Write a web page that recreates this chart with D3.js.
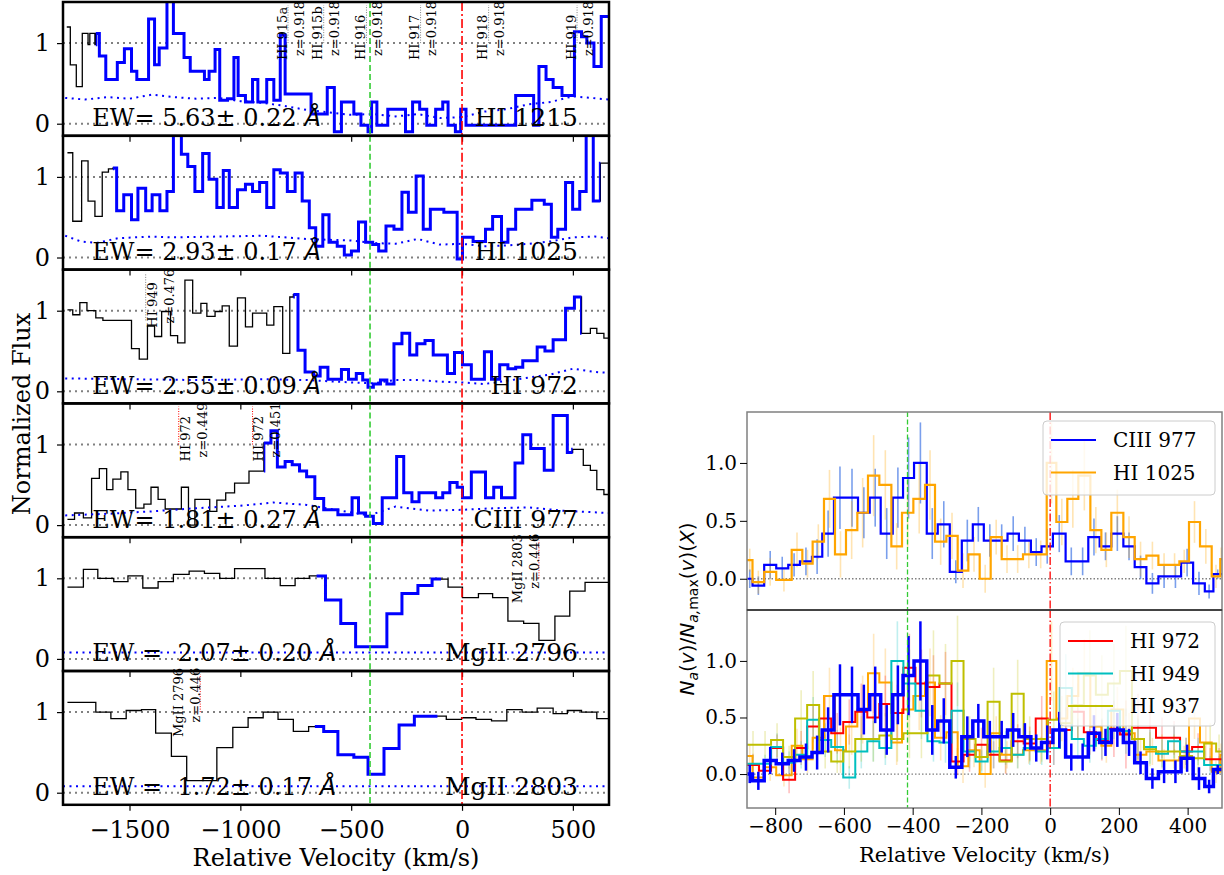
<!DOCTYPE html>
<html>
<head>
<meta charset="utf-8">
<script src="https://cdn.jsdelivr.net/npm/d3@7"></script>
<style>
  body { margin: 0; background: #fff; }
  svg text { font-family: "DejaVu Serif", serif; }
</style>
</head>
<body>
<div id="chart"></div>
<script>
// ---------- left column: normalized flux per transition ----------
const lineNames = ["HI 1215", "HI 1025", "HI 972", "CIII 977", "MgII 2796", "MgII 2803"];
const ewPrefix = ["EW= ", "EW= ", "EW= ", "EW= ", "EW =  ", "EW =  "];
const ewValues = ["5.63\u00b1 0.22", "2.93\u00b1 0.17", "2.55\u00b1 0.09", "1.81\u00b1 0.27", "2.07\u00b1 0.20", "1.72\u00b1 0.17"];

// flux step spectra (velocity of bin start, flux)
const p1Vel = [-1783,-1767,-1740,-1713,-1687,-1679,-1656,-1652,-1636,-1607,-1555,-1523,-1491,-1467,-1414,-1387,-1366,-1331,-1302,-1254,-1226,-1162,-1141,-1114,-1093,-1058,-1029,-1010,-977,-945,-921,-881,-849,-820,-798,-681,-608,-576,-544,-488,-456,-424,-408,-384,-335,-255,-223,-191,-159,-119,-87,-63,-30,-6,18,242,323,347,379,411,451,507,539,563,595,628];
const p1Flux = [1.20,0.73,0.46,1.12,0.98,1.12,0.98,1.12,0.84,0.55,0.76,0.93,0.65,0.55,1.30,0.73,0.94,1.55,1.12,0.82,0.65,0.55,0.65,0.92,0.29,0.31,0.82,0.35,0.27,0.55,0.27,0.55,0.29,1.10,0.37,0.12,0.45,-0.10,0.27,0.12,-0.02,-0.10,0.27,-0.02,0.18,-0.10,0.27,0.18,-0.02,0.18,0.27,-0.02,-0.10,0.18,-0.02,0.35,-0.02,0.71,0.55,0.45,0.35,1.14,1.08,1.0,0.71,1.33];

const p2Vel = [-1780,-1756,-1716,-1687,-1656,-1623,-1595,-1575,-1558,-1526,-1491,-1462,-1427,-1398,-1363,-1331,-1302,-1266,-1237,-1205,-1170,-1141,-1106,-1077,-1050,-1013,-977,-945,-913,-881,-849,-820,-788,-753,-721,-689,-660,-628,-600,-563,-531,-499,-467,-435,-403,-376,-343,-307,-271,-242,-207,-175,-143,-82,-22,2,50,106,138,178,207,242,315,371,403,432,467,499,531,560,592,624];
const p2Flux = [1.30,0.45,1.20,0.70,0.51,1.06,1.10,1.11,0.58,0.78,0.47,0.86,0.58,0.78,0.58,0.82,1.55,1.28,1.13,0.82,1.29,0.97,0.62,1.08,0.62,0.84,0.91,0.82,0.93,0.62,1.09,1.05,0.82,1.05,0.70,0.37,0.14,0.53,0.19,0.14,0.03,0.08,0.44,0.19,0.16,0.08,0.39,0.35,0.81,0.56,1.01,0.35,0.60,0.56,-0.02,0.25,0.20,0.35,0.51,0.19,0.35,0.60,0.71,0.66,0.25,0.35,0.93,0.60,0.82,1.55,0.70,1.17];

const p3Vel = [-1780,-1756,-1724,-1692,-1652,-1620,-1491,-1456,-1419,-1387,-1355,-1315,-1283,-1250,-1215,-1178,-1151,-1114,-1082,-1050,-1013,-977,-945,-881,-849,-809,-777,-761,-740,-708,-669,-640,-605,-544,-512,-477,-448,-424,-400,-368,-339,-307,-271,-236,-204,-167,-130,-66,-34,2,42,101,133,170,207,242,274,339,374,411,467,507,539,579,608,640];
const p3Flux = [1.01,0.95,1.10,1.0,0.91,0.88,0.53,0.40,0.81,0.68,0.99,0.69,0.60,1.38,0.97,1.09,0.93,0.99,1.06,0.56,1.16,0.80,0.97,0.82,1.05,0.47,1.17,1.20,0.51,0.24,0.19,0.30,0.15,0.27,0.15,0.22,0.14,0.05,0.09,0.14,0.09,0.59,0.72,0.45,0.59,0.63,0.45,0.22,0.48,0.33,0.15,0.49,0.15,0.33,0.28,0.30,0.38,0.55,0.50,0.64,1.03,1.17,0.72,0.78,0.72,0.66];

const p4Vel = [-1780,-1748,-1708,-1671,-1636,-1603,-1575,-1539,-1507,-1472,-1435,-1403,-1371,-1339,-1266,-1234,-1205,-1138,-1106,-1066,-1026,-961,-894,-862,-833,-798,-766,-733,-701,-664,-624,-560,-496,-467,-435,-400,-360,-295,-263,-226,-194,-119,-87,-55,-22,2,42,106,143,178,239,274,310,371,411,475,499,547,579,608,640];
const p4Flux = [0.07,0.15,0.09,0.58,0.70,0.44,0.57,0.66,0.44,0.21,0.26,0.47,0.32,0.20,0.47,0.0,0.32,0.17,0.31,0.40,0.52,0.67,1.02,1.17,0.72,0.79,0.75,0.67,0.60,0.33,0.19,0.13,0.34,0.15,0.11,0.02,0.34,0.85,0.40,0.29,0.40,0.34,0.40,0.53,0.47,0.34,0.66,0.34,0.47,0.34,0.77,1.12,0.95,0.68,1.36,0.90,0.94,0.74,0.68,0.44,0.38];

const p5Vel = [-1780,-1708,-1643,-1571,-1507,-1440,-1371,-1302,-1231,-1162,-1093,-1026,-889,-820,-753,-689,-616,-547,-480,-339,-271,-199,-135,-63,2,74,138,207,278,347,419,486,555];
const p5Flux = [0.89,1.11,1.0,0.96,1.03,0.88,0.96,1.05,1.09,1.06,1.0,1.12,1.0,0.91,1.0,1.03,0.73,0.44,0.15,0.56,0.81,0.91,0.99,0.89,0.76,0.81,0.76,0.47,0.44,0.23,0.53,0.84,0.95];

const p6Vel = [-1780,-1652,-1584,-1515,-1446,-1382,-1311,-1242,-1106,-1034,-965,-897,-830,-761,-692,-624,-560,-488,-424,-352,-284,-215,-71,-2,63,133,202,271,339,411,475,539,608];
const p6Flux = [1.12,1.0,0.92,1.02,1.03,0.74,0.45,0.15,0.56,0.81,0.93,1.0,0.91,0.76,0.82,0.76,0.47,0.44,0.23,0.55,0.84,0.95,0.91,0.93,0.91,0.89,1.03,1.0,1.05,0.98,1.02,1.0,0.92];

// flux error (dotted) per panel
const p1ErrVel = [-1790,-1700,-1600,-1500,-1400,-1300,-1200,-1100,-1000,-900,-800,-700,-600,-500,-400,-300,-200,-100,0,100,200,300,400,500,663];
const p1Err = [0.32,0.30,0.33,0.31,0.36,0.33,0.31,0.32,0.28,0.26,0.22,0.17,0.14,0.11,0.12,0.09,0.12,0.07,0.08,0.15,0.18,0.24,0.27,0.34,0.30];
const p2ErrVel = [-1790,-1720,-1650,-1550,-1400,-1300,-1100,-900,-800,-700,-600,-500,-400,-300,-200,-100,0,100,200,300,400,500,600,663];
const p2Err = [0.27,0.20,0.18,0.24,0.26,0.25,0.26,0.27,0.25,0.23,0.22,0.21,0.18,0.17,0.23,0.16,0.17,0.14,0.15,0.17,0.20,0.25,0.26,0.24];
const p3ErrVel = [-1790,-1500,-1200,-900,-700,-500,-400,-300,-200,-100,0,100,200,300,400,500,600,663];
const p3Err = [0.16,0.15,0.14,0.15,0.14,0.11,0.10,0.14,0.14,0.12,0.11,0.09,0.13,0.17,0.21,0.28,0.24,0.23];
const p4ErrVel = [-1790,-1600,-1400,-1200,-1000,-850,-700,-550,-420,-300,-150,0,150,300,450,663];
const p4Err = [0.12,0.14,0.17,0.21,0.24,0.28,0.25,0.18,0.12,0.23,0.18,0.19,0.21,0.22,0.18,0.15];
const p5ErrVel = [-1800, 663];
const p5Err = [0.08, 0.08];
const p6ErrVel = [-1800, 663];
const p6Err = [0.08, 0.08];

// integration windows (km/s)
const windows = [[-1652, 663], [-1575, 624], [-761, 539], [-894, 499], [-656, -95], [-664, -111]];

// line identification labels: panel, velocity, two text lines, marker velocity
const labelPanel = [0, 0, 0, 0, 0, 0, 2, 3, 3, 4, 5];
const labelVel = [-777, -616, -423, -179, 128, 527, -1362, -1215, -886, 282, -1243];
const labelLine1 = ["HI 915a", "HI 915b", "HI 916", "HI 917", "HI 918", "HI 919", "HI 949", "HI 972", "HI 972", "MgII 2803", "MgII 2796"];
const labelLine2 = ["z=0.918", "z=0.918", "z=0.918", "z=0.918", "z=0.918", "z=0.918", "z=0.476", "z=0.449", "z=0.451", "z=0.446", "z=0.446"];
const markerVel = [-785, -624, -431, -187, 120, 519, -1427, -1278, -945, 347, -1181];

// ---------- right column: apparent column density profiles ----------
const ciiiVel = [-882,-866,-832,-797,-762,-728,-693,-663,-629,-594,-559,-525,-493,-458,-428,-396,-359,-327,-292,-257,-225,-193,-158,-124,-91,-56,-25,8,45,78,111,144,178,213,246,280,315,348,381,416,450,475];
const ciiiNa = [0.0,-0.06,0.12,0.09,0.12,0.15,0.19,0.39,0.70,0.70,0.57,0.70,0.39,0.70,0.87,1.0,0.39,0.47,0.06,0.33,0.47,0.33,0.33,0.39,0.33,0.23,0.28,0.39,0.15,0.15,0.36,0.28,0.39,0.28,0.10,-0.04,0.02,0.02,0.14,-0.04,-0.11,0.04];
const ciiiErr = [0.08,0.08,0.12,0.10,0.10,0.12,0.15,0.20,0.27,0.25,0.22,0.25,0.22,0.26,0.35,0.35,0.22,0.20,0.10,0.18,0.15,0.14,0.14,0.15,0.12,0.12,0.15,0.16,0.12,0.12,0.16,0.12,0.15,0.12,0.10,0.09,0.10,0.10,0.12,0.10,0.06,0.04];

const hi1025Vel = [-882,-866,-832,-797,-752,-721,-691,-658,-626,-594,-561,-530,-497,-462,-431,-398,-364,-335,-302,-269,-238,-205,-173,-141,-110,-79,-45,-10,18,50,82,117,149,178,213,246,280,315,348,376,404,436,470,495];
const hi1025Na = [0.16,-0.03,0.06,-0.01,0.25,0.13,0.32,0.69,0.21,0.42,0.57,0.89,0.81,0.28,0.57,0.69,0.81,0.32,0.37,0.07,0.21,0.0,0.36,0.17,0.17,0.21,0.21,1.0,0.49,0.69,0.89,0.42,0.25,0.57,0.36,0.17,0.20,0.12,0.12,0.15,0.49,0.28,0.02,0.17];
const hi1025Err = [0.10,0.10,0.12,0.10,0.15,0.12,0.15,0.25,0.20,0.25,0.30,0.35,0.30,0.20,0.30,0.30,0.30,0.20,0.20,0.15,0.15,0.12,0.15,0.12,0.12,0.12,0.12,0.35,0.20,0.25,0.30,0.20,0.15,0.20,0.18,0.15,0.12,0.10,0.10,0.10,0.18,0.15,0.10,0.10];

const hiLymanVel = [-882,-847,-812,-777,-742,-707,-672,-637,-602,-567,-532,-497,-462,-427,-392,-357,-322,-287,-252,-217,-182,-147,-112,-77,-42,-7,28,63,98,133,168,203,238,273,308,343,378,413,448,483];
const hi972Na = [0.08,0.03,0.23,-0.05,0.23,0.42,0.49,0.36,0.46,0.55,0.50,0.62,0.54,0.94,0.80,0.77,0.80,0.11,0.17,0.26,0.17,0.12,0.29,0.27,0.49,0.23,0.39,0.55,0.37,0.30,0.40,0.35,0.41,0.41,0.32,0.32,0.20,0.24,0.13,0.13];
const hi972Err = [0.10,0.10,0.12,0.12,0.15,0.20,0.20,0.18,0.20,0.25,0.22,0.25,0.25,0.30,0.30,0.28,0.28,0.12,0.15,0.15,0.12,0.12,0.15,0.15,0.20,0.15,0.20,0.25,0.20,0.18,0.25,0.30,0.30,0.20,0.18,0.15,0.12,0.12,0.10,0.10];
const hi949Na = [0.09,0.09,0.24,0.10,0.17,0.48,0.30,0.24,-0.03,0.20,0.29,0.23,1.0,0.80,0.56,0.29,0.28,0.56,0.20,0.11,0.20,0.23,0.17,0.23,0.20,0.23,0.76,0.31,0.25,0.31,0.56,0.38,0.31,0.24,0.18,0.29,0.20,0.20,0.08,0.08];
const hi949Err = [0.08,0.08,0.12,0.10,0.12,0.20,0.15,0.15,0.10,0.15,0.18,0.15,0.35,0.30,0.25,0.18,0.18,0.25,0.15,0.10,0.15,0.15,0.12,0.15,0.12,0.15,0.30,0.18,0.15,0.18,0.25,0.20,0.18,0.15,0.12,0.15,0.12,0.12,0.08,0.08];
const hi937Na = [0.26,0.26,0.30,0.15,0.49,0.61,0.20,0.11,0.20,0.31,0.31,0.34,0.31,0.36,0.36,0.87,0.80,1.0,0.31,0.15,0.64,0.11,0.71,0.31,0.31,0.48,0.45,0.61,0.87,0.70,0.80,0.91,0.31,0.22,0.20,0.20,0.16,0.14,0.27,0.20];
const hi937Err = [0.12,0.12,0.15,0.10,0.25,0.30,0.15,0.10,0.15,0.20,0.20,0.20,0.20,0.22,0.22,0.40,0.35,0.40,0.20,0.12,0.30,0.10,0.30,0.20,0.20,0.25,0.25,0.30,0.40,0.35,0.35,0.40,0.20,0.15,0.15,0.15,0.12,0.12,0.18,0.15];

const systemicVel = 0;
const componentVel = -415;

// ---------- drawing ----------
const svg = d3.select("#chart").append("svg").attr("width", 1224).attr("height", 875);
const defs = svg.append("defs");
const GREEN = "#33cc33", RED = "#ff0000", BLUE = "#0000ff";

function stepPoints(vel, val, xEnd) {
    const pts = d3.zip(vel, val);
    pts.push([xEnd, pts[pts.length - 1][1]]);
    return pts;
}

// Left column
const xL = d3.scaleLinear().domain([-1800, 663]).range([63, 609]);
const panelTop = 2, panelH = 133.8;

const leftPanels = [
    {vel: p1Vel, flux: p1Flux, errVel: p1ErrVel, err: p1Err},
    {vel: p2Vel, flux: p2Flux, errVel: p2ErrVel, err: p2Err},
    {vel: p3Vel, flux: p3Flux, errVel: p3ErrVel, err: p3Err},
    {vel: p4Vel, flux: p4Flux, errVel: p4ErrVel, err: p4Err},
    {vel: p5Vel, flux: p5Flux, errVel: p5ErrVel, err: p5Err},
    {vel: p6Vel, flux: p6Flux, errVel: p6ErrVel, err: p6Err}
];

const yLeft = [];
leftPanels.forEach((p, i) => {
    const top = panelTop + i * panelH, bottom = top + panelH;
    const y = d3.scaleLinear().domain([-0.15, 1.51]).range([bottom, top]);
    yLeft.push(y);

    defs.append("clipPath").attr("id", "lc" + i).append("rect")
        .attr("x", xL.range()[0]).attr("y", top)
        .attr("width", xL.range()[1] - xL.range()[0]).attr("height", panelH);
    const w = windows[i];
    defs.append("clipPath").attr("id", "lw" + i).append("rect")
        .attr("x", xL(w[0])).attr("y", top)
        .attr("width", xL(w[1]) - xL(w[0])).attr("height", panelH);

    const g = svg.append("g").attr("clip-path", `url(#lc${i})`);

    // reference levels at 0 and 1
    [0, 1].forEach(lv => {
        g.append("line")
            .attr("x1", xL.range()[0]).attr("x2", xL.range()[1])
            .attr("y1", y(lv)).attr("y2", y(lv))
            .attr("stroke", "#808080").attr("stroke-width", 2)
            .attr("stroke-dasharray", "2,4");
    });

    const line = d3.line().x(d => xL(d[0])).y(d => y(d[1])).curve(d3.curveStepAfter);
    const pts = stepPoints(p.vel, p.flux, xL.domain()[1]);

    // full spectrum in black
    g.append("path").attr("d", line(pts))
        .attr("fill", "none").attr("stroke", "#000").attr("stroke-width", 1.3);
    // integration window in thick blue
    g.append("g").attr("clip-path", `url(#lw${i})`)
        .append("path").attr("d", line(pts))
        .attr("fill", "none").attr("stroke", BLUE).attr("stroke-width", 3);

    // error spectrum
    g.append("path")
        .attr("d", d3.line().x(d => xL(d[0])).y(d => y(d[1]))(d3.zip(p.errVel, p.err)))
        .attr("fill", "none").attr("stroke", BLUE).attr("stroke-width", 2)
        .attr("stroke-dasharray", "2,4.5");

    // component / systemic markers
    g.append("line").attr("x1", xL(componentVel)).attr("x2", xL(componentVel))
        .attr("y1", top).attr("y2", bottom)
        .attr("stroke", GREEN).attr("stroke-width", 1.6).attr("stroke-dasharray", "6,3");
    g.append("line").attr("x1", xL(systemicVel)).attr("x2", xL(systemicVel))
        .attr("y1", top).attr("y2", bottom)
        .attr("stroke", RED).attr("stroke-width", 1.6).attr("stroke-dasharray", "9,3,2,3");

    // EW and transition name
    const base = y(-0.03);
    const ew = svg.append("text").attr("x", xL(-1668)).attr("y", base)
        .style("font-size", "24px").attr("xml:space", "preserve").style("white-space", "pre");
    ew.append("tspan").text(ewPrefix[i] + ewValues[i] + " ");
    ew.append("tspan").style("font-family", "DejaVu Sans").style("font-style", "italic").text("\u00c5");
    svg.append("text").attr("x", xL(523)).attr("y", base)
        .attr("text-anchor", "end").style("font-size", "25px").text(lineNames[i]);

    // frame
    svg.append("rect").attr("x", xL.range()[0]).attr("y", top)
        .attr("width", xL.range()[1] - xL.range()[0]).attr("height", panelH)
        .attr("fill", "none").attr("stroke", "#000").attr("stroke-width", 2.5);

    // y axis
    svg.append("g").attr("transform", `translate(${xL.range()[0]},0)`)
        .call(d3.axisLeft(y).tickValues([0, 1]).tickFormat(d3.format("d")).tickSize(6).tickPadding(7))
        .call(a => a.select(".domain").remove())
        .call(a => a.selectAll("line").attr("stroke", "#000").attr("stroke-width", 1.2))
        .selectAll("text").style("font-family", "DejaVu Serif").style("font-size", "24px");

    // x ticks on every panel, labels only on the bottom one
    const xa = d3.axisBottom(xL).tickValues([-1500, -1000, -500, 0, 500])
        .tickFormat(d3.format("d")).tickSize(6).tickPadding(10);
    const ax = svg.append("g").attr("transform", `translate(0,${bottom})`).call(xa)
        .call(a => a.select(".domain").remove())
        .call(a => a.selectAll("line").attr("stroke", "#000").attr("stroke-width", 1.2));
    ax.selectAll("text").style("font-family", "DejaVu Serif").style("font-size", "24px");
    if (i < leftPanels.length - 1) ax.selectAll("text").remove();
});

// line identification labels
labelPanel.forEach((pi, k) => {
    const y = yLeft[pi];
    const col = pi === 0 || pi === 2 ? "#808080" : RED;
    const xm = xL(markerVel[k]);
    svg.append("line").attr("x1", xm).attr("x2", xm)
        .attr("y1", y(pi === 2 ? 0.88 : 1.0)).attr("y2", y(1.47))
        .attr("stroke", col).attr("stroke-width", 1).attr("stroke-dasharray", "1,1.5");
    const xc = xL(labelVel[k]);
    const long1 = labelLine1[k].length > 7;
    [[labelLine1[k], xc - 8, long1 ? 0.69 : 0.79], [labelLine2[k], xc + 9, long1 ? 0.87 : 0.84]].forEach(t => {
        svg.append("text")
            .attr("transform", `translate(${t[1] + 5},${y(t[2])}) rotate(-90)`)
            .style("font-size", "13px").text(t[0]);
    });
});

svg.append("text").attr("x", (xL.range()[0] + xL.range()[1]) / 2).attr("y", 866)
    .attr("text-anchor", "middle").style("font-size", "24px").text("Relative Velocity (km/s)");
svg.append("text").attr("transform", "translate(30,414) rotate(-90)")
    .attr("text-anchor", "middle").style("font-size", "24px").text("Normalized Flux");

// Right column
const xR = d3.scaleLinear().domain([-882, 500]).range([747, 1222]);
const yTop = d3.scaleLinear().domain([-0.27, 1.44]).range([610, 412]);
const yBot = d3.scaleLinear().domain([-0.30, 1.45]).range([808, 610]);

function drawProfile(g, y, vel, val, err, color, width, errColor, errOpacity, errWidth) {
    const pts = stepPoints(vel, val, xR.domain()[1]);
    const eg = g.append("g");
    pts.slice(0, -1).forEach((d, k) => {
        const c = (d[0] + pts[k + 1][0]) / 2;
        eg.append("line").attr("x1", xR(c)).attr("x2", xR(c))
            .attr("y1", y(d[1] - err[k])).attr("y2", y(d[1] + err[k]))
            .attr("stroke", errColor).attr("stroke-opacity", errOpacity).attr("stroke-width", errWidth);
    });
    return () => g.append("path")
        .attr("d", d3.line().x(d => xR(d[0])).y(d => y(d[1])).curve(d3.curveStepAfter)(pts))
        .attr("fill", "none").attr("stroke", color).attr("stroke-width", width);
}

function rightPanel(id, y) {
    defs.append("clipPath").attr("id", id).append("rect")
        .attr("x", xR.range()[0]).attr("y", y.range()[1])
        .attr("width", xR.range()[1] - xR.range()[0]).attr("height", y.range()[0] - y.range()[1]);
    const g = svg.append("g").attr("clip-path", `url(#${id})`);
    g.append("line").attr("x1", xR.range()[0]).attr("x2", xR.range()[1])
        .attr("y1", y(0)).attr("y2", y(0))
        .attr("stroke", "#808080").attr("stroke-width", 1.3).attr("stroke-dasharray", "1.5,2");
    return g;
}

function markers(g, y) {
    g.append("line").attr("x1", xR(componentVel)).attr("x2", xR(componentVel))
        .attr("y1", y.range()[1]).attr("y2", y.range()[0])
        .attr("stroke", GREEN).attr("stroke-width", 1.3).attr("stroke-dasharray", "5,2.5");
    g.append("line").attr("x1", xR(systemicVel)).attr("x2", xR(systemicVel))
        .attr("y1", y.range()[1]).attr("y2", y.range()[0])
        .attr("stroke", RED).attr("stroke-width", 1.3).attr("stroke-dasharray", "8,2.5,1.5,2.5");
}

function legend(x, y0, w, h, items) {
    svg.append("rect").attr("x", x).attr("y", y0).attr("width", w).attr("height", h)
        .attr("rx", 4).attr("fill", "#fff").attr("fill-opacity", 0.8)
        .attr("stroke", "#cccccc").attr("stroke-width", 1);
    items.forEach((it, k) => {
        const yy = y0 + 19 + k * 32.5;
        svg.append("line").attr("x1", x + 8).attr("x2", x + 53).attr("y1", yy).attr("y2", yy)
            .attr("stroke", it[1]).attr("stroke-width", 2);
        svg.append("text").attr("x", x + 70).attr("y", yy + 7)
            .style("font-size", "20px").text(it[0]);
    });
}

// top: CIII 977 vs HI 1025
const gT = rightPanel("rt", yTop);
const ciiiTop = drawProfile(gT, yTop, ciiiVel, ciiiNa, ciiiErr, BLUE, 2.2, "#4d7fe6", 0.75, 1.6);
const h1025Top = drawProfile(gT, yTop, hi1025Vel, hi1025Na, hi1025Err, "#ffa500", 2.2, "#ffa500", 0.3, 1.6);
ciiiTop();
h1025Top();
markers(gT, yTop);

// bottom: all HI lines with CIII 977 on top
const gB = rightPanel("rb", yBot);
const h1025Bot = drawProfile(gB, yBot, hi1025Vel, hi1025Na, hi1025Err, "#ffa500", 2, "#ffa500", 0.25, 1.6);
const h972 = drawProfile(gB, yBot, hiLymanVel, hi972Na, hi972Err, "#ff0000", 2, "#ff0000", 0.25, 1.6);
const h949 = drawProfile(gB, yBot, hiLymanVel, hi949Na, hi949Err, "#00bfbf", 2, "#00bfbf", 0.25, 1.6);
const h937 = drawProfile(gB, yBot, hiLymanVel, hi937Na, hi937Err, "#bfbf00", 2, "#bfbf00", 0.25, 1.6);
h1025Bot(); h972(); h949(); h937();
const ciiiBot = drawProfile(gB, yBot, ciiiVel, ciiiNa, ciiiErr, BLUE, 3.5, BLUE, 1, 2.5);
ciiiBot();
markers(gB, yBot);

// frames
[yTop, yBot].forEach(y => {
    svg.append("rect").attr("x", xR.range()[0]).attr("y", y.range()[1])
        .attr("width", xR.range()[1] - xR.range()[0]).attr("height", y.range()[0] - y.range()[1])
        .attr("fill", "none").attr("stroke", "#808080").attr("stroke-width", 1.5);
    svg.append("g").attr("transform", `translate(${xR.range()[0]},0)`)
        .call(d3.axisLeft(y).tickValues([0, 0.5, 1.0]).tickFormat(d3.format(".1f")).tickSize(7).tickPadding(3))
        .call(a => a.select(".domain").remove())
        .call(a => a.selectAll("line").attr("stroke", "#000"))
        .selectAll("text").style("font-family", "DejaVu Serif").style("font-size", "20px");
});
svg.append("line").attr("x1", xR.range()[0]).attr("x2", xR.range()[1])
    .attr("y1", yTop.range()[0]).attr("y2", yTop.range()[0]).attr("stroke", "#000").attr("stroke-width", 1.2);

svg.append("g").attr("transform", `translate(0,${yBot.range()[0]})`)
    .call(d3.axisBottom(xR).tickValues([-800, -600, -400, -200, 0, 200, 400]).tickFormat(d3.format("d")).tickSize(7).tickPadding(4))
    .call(a => a.select(".domain").remove())
    .call(a => a.selectAll("line").attr("stroke", "#000"))
    .selectAll("text").style("font-family", "DejaVu Serif").style("font-size", "20px");

legend(1043, 421, 172, 74, [["CIII 977", BLUE], ["HI 1025", "#ffa500"]]);
legend(1060, 622, 155, 104, [["HI 972", "#ff0000"], ["HI 949", "#00bfbf"], ["HI 937", "#bfbf00"]]);

svg.append("text").attr("x", (xR.range()[0] + xR.range()[1]) / 2).attr("y", 862)
    .attr("text-anchor", "middle").style("font-size", "21px").text("Relative Velocity (km/s)");

// y label of the right column (math style)
const yl = svg.append("text").attr("transform", "translate(694,609) rotate(-90)")
    .attr("text-anchor", "middle").style("font-family", "DejaVu Sans").style("font-size", "20px");
yl.append("tspan").style("font-style", "italic").text("N");
yl.append("tspan").style("font-style", "italic").style("font-size", "14px").attr("dy", 4).text("a");
yl.append("tspan").attr("dy", -4).text("(");
yl.append("tspan").style("font-style", "italic").text("v");
yl.append("tspan").text(")/");
yl.append("tspan").style("font-style", "italic").text("N");
yl.append("tspan").style("font-style", "italic").style("font-size", "14px").attr("dy", 4).text("a,");
yl.append("tspan").style("font-size", "14px").text("max");
yl.append("tspan").attr("dy", -4).text("(");
yl.append("tspan").style("font-style", "italic").text("v");
yl.append("tspan").text(")(");
yl.append("tspan").style("font-style", "italic").text("X");
yl.append("tspan").text(")");
</script>
</body>
</html>
